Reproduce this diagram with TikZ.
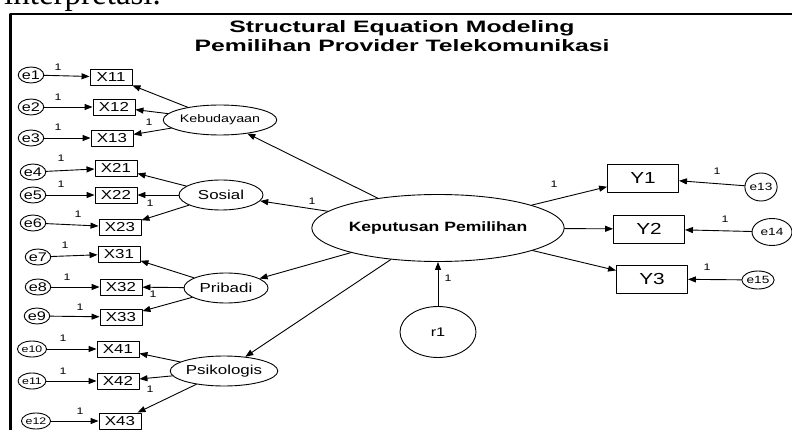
\documentclass[tikz,border=0pt]{standalone}
\usepackage{fontspec}
\usepackage{tikz}
\usetikzlibrary{shapes.geometric}
\usetikzlibrary{arrows.meta}
\newfontfamily\amos[FakeStretch=1.3]{Liberation Sans}
\newfontfamily\amostitle[FakeStretch=1.5]{Liberation Sans}
\newfontfamily\pagefont{Liberation Serif}
\newcommand{\fsz}[1]{\fontsize{#1}{#1}\selectfont}
\tikzstyle{every node}=[inner sep=0pt]
\tikzstyle{obsbox}=[draw, rectangle, line width=0.9pt, minimum width=42, minimum height=16, font=\amos\fsz{13}]
\tikzstyle{ybox}=[draw, rectangle, line width=0.9pt, minimum width=71, minimum height=28, font=\amos\fsz{16}]
\tikzstyle{errell}=[draw, ellipse, line width=0.9pt, minimum width=22, minimum height=16, font=\amos\fsz{12.5}]
\tikzstyle{smallerr}=[errell, font=\amos\fsz{9.5}]
\tikzstyle{latell}=[draw, ellipse, line width=0.9pt, minimum width=84, minimum height=30, font=\amos\fsz{13}]
\tikzstyle{lbl}=[font=\amos\fsz{9.5}]
\tikzstyle{path}=[->, line width=0.9pt]

\begin{document}
\begin{tikzpicture}[line cap=round,line join=round,>={Triangle[length=8pt,width=6pt]},x=1pt,y=-1pt]
            \useasboundingbox (0,0) rectangle (792,430);
            \clip (0,0) rectangle (792,430);
            \node[anchor=base west, font=\pagefont\fsz{33}] (interp) at (4,5) {interpretasi.};
            \draw[line width=2.5pt, line cap=butt] (10.5,431) -- (10.5,14) -- (793,14);
            \node[align=center, font=\amostitle\bfseries\fsz{16.5}] (title) at (402,36) {Structural Equation Modeling\\[3pt]Pemilihan Provider Telekomunikasi};
            % latent variables
            \node[latell, font=\amos\fsz{11}] (keb) at (220,120) {Kebudayaan};
            \node[latell] (sos) at (221,195) {Sosial};
            \node[latell] (pri) at (226,288) {Pribadi};
            \node[latell] (psi) at (224,371) {Psikologis};
            \node[draw, ellipse, line width=0.9pt, minimum width=187, minimum height=67, font=\amos\bfseries\fsz{13.5}] (kep) at (438,228) {Keputusan Pemilihan};
            \node[draw, ellipse, line width=0.9pt, minimum width=76, minimum height=51, font=\amos\fsz{12.5}] (r1) at (438,332) {r1};
            % indicators
            \node[obsbox] (x11) at (111,77) {X11};
            \node[obsbox] (x12) at (114,107) {X12};
            \node[obsbox] (x13) at (112,138) {X13};
            \node[obsbox] (x21) at (116,168) {X21};
            \node[obsbox] (x22) at (116,195) {X22};
            \node[obsbox] (x23) at (120,227) {X23};
            \node[obsbox] (x31) at (119,254) {X31};
            \node[obsbox] (x32) at (121,287) {X32};
            \node[obsbox] (x33) at (121,317) {X33};
            \node[obsbox] (x41) at (118,349) {X41};
            \node[obsbox] (x42) at (118,381) {X42};
            \node[obsbox] (x43) at (120,421) {X43};
            \node[ybox] (y1) at (643,178) {Y1};
            \node[ybox] (y2) at (649,229) {Y2};
            \node[ybox] (y3) at (652,279) {Y3};
            % errors
            \node[errell] (e1) at (31,75) {e1};
            \node[errell] (e2) at (31,107) {e2};
            \node[errell] (e3) at (31,138) {e3};
            \node[errell] (e4) at (33,172) {e4};
            \node[errell] (e5) at (33,195) {e5};
            \node[errell] (e6) at (33,223) {e6};
            \node[errell] (e7) at (38,257) {e7};
            \node[errell] (e8) at (38,287) {e8};
            \node[errell] (e9) at (37,316) {e9};
            \node[smallerr] (e10) at (32,349) {e10};
            \node[smallerr] (e11) at (32,381) {e11};
            \node[smallerr] (e12) at (36,421) {e12};
            \node[draw, ellipse, line width=0.9pt, minimum width=32, minimum height=28, font=\amos\fsz{10.5}] (e13) at (761,187) {e13};
            \node[draw, ellipse, line width=0.9pt, minimum width=40, minimum height=27, font=\amos\fsz{10.5}] (e14) at (772,232) {e14};
            \node[draw, ellipse, line width=0.9pt, minimum width=30, minimum height=18, font=\amos\fsz{10.5}] (e15) at (758,280) {e15};
            % paths
            \draw[path] (e1) -- (x11);
            \draw[path] (e2) -- (x12);
            \draw[path] (e3) -- (x13);
            \draw[path] (e4) -- (x21);
            \draw[path] (e5) -- (x22);
            \draw[path] (e6) -- (x23);
            \draw[path] (e7) -- (x31);
            \draw[path] (e8) -- (x32);
            \draw[path] (e9) -- (x33);
            \draw[path] (e10) -- (x41);
            \draw[path] (e11) -- (x42);
            \draw[path] (e12) -- (x43);
            \draw[path] (keb) -- (x11);
            \draw[path] (keb) -- (x12);
            \draw[path] (keb) -- (x13);
            \draw[path] (sos) -- (x21);
            \draw[path] (sos) -- (x22);
            \draw[path] (sos) -- (x23);
            \draw[path] (pri) -- (x31);
            \draw[path] (pri) -- (x32);
            \draw[path] (pri) -- (x33);
            \draw[path] (psi) -- (x41);
            \draw[path] (psi) -- (x42);
            \draw[path] (psi) -- (x43);
            \draw[path] (kep) -- (keb);
            \draw[path] (kep) -- (sos);
            \draw[path] (kep) -- (pri);
            \draw[path] (kep) -- (psi);
            \draw[path] (kep) -- (y1);
            \draw[path] (kep) -- (y2);
            \draw[path] (kep) -- (y3);
            \draw[path] (e13) -- (y1);
            \draw[path] (e14) -- (y2);
            \draw[path] (e15) -- (y3);
            \draw[path] (r1) -- (kep);
            % weights
            \node[lbl] (w1) at (58,67) {1};
            \node[lbl] (w2) at (58,97) {1};
            \node[lbl] (w3) at (58,127) {1};
            \node[lbl] (w4) at (149,122) {1};
            \node[lbl] (w5) at (61,158) {1};
            \node[lbl] (w6) at (61,184) {1};
            \node[lbl] (w7) at (78,214) {1};
            \node[lbl] (w8) at (150,203) {1};
            \node[lbl] (w9) at (65,245) {1};
            \node[lbl] (w10) at (67,277) {1};
            \node[lbl] (w11) at (80,307) {1};
            \node[lbl] (w12) at (153,294) {1};
            \node[lbl] (w13) at (63,338) {1};
            \node[lbl] (w14) at (63,371) {1};
            \node[lbl] (w15) at (80,411) {1};
            \node[lbl] (w16) at (150,389) {1};
            \node[lbl] (w17) at (312,201) {1};
            \node[lbl] (w18) at (554,184) {1};
            \node[lbl] (w19) at (717,171) {1};
            \node[lbl] (w20) at (725,219) {1};
            \node[lbl] (w21) at (707,267) {1};
            \node[lbl] (w22) at (448,278) {1};
        \end{tikzpicture}
\end{document}
